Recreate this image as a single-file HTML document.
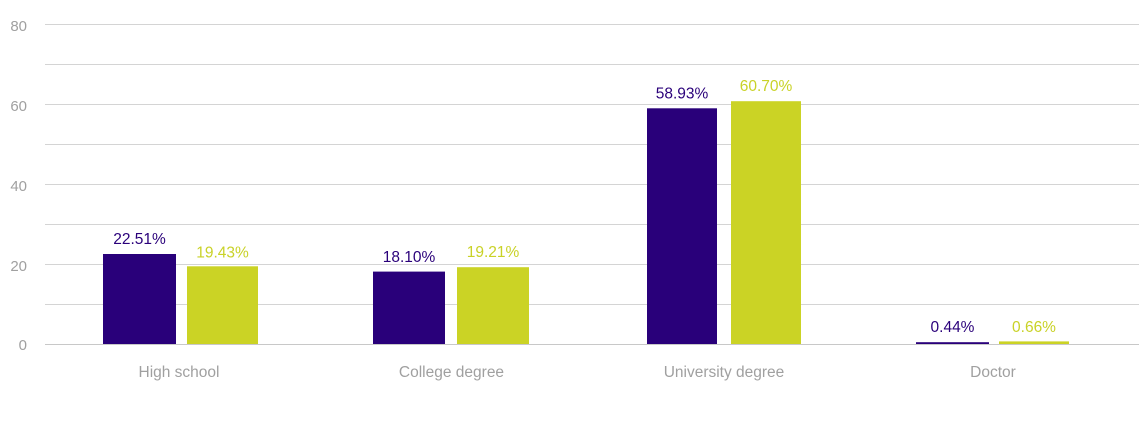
<!DOCTYPE html>
<html>
<head>
<meta charset="utf-8">
<style>
  html,body{margin:0;padding:0;background:#fff;}
  svg{display:block;}
  text{font-family:"Liberation Sans",Arial,sans-serif;}
</style>
</head>
<body>
<svg width="1140" height="424" viewBox="0 0 1140 424" xmlns="http://www.w3.org/2000/svg">
  <g stroke="#d4d4d4" stroke-width="1">
    <line x1="45" y1="24.5" x2="1139" y2="24.5"/>
    <line x1="45" y1="64.5" x2="1139" y2="64.5"/>
    <line x1="45" y1="104.5" x2="1139" y2="104.5"/>
    <line x1="45" y1="144.5" x2="1139" y2="144.5"/>
    <line x1="45" y1="184.5" x2="1139" y2="184.5"/>
    <line x1="45" y1="224.5" x2="1139" y2="224.5"/>
    <line x1="45" y1="264.5" x2="1139" y2="264.5"/>
    <line x1="45" y1="304.5" x2="1139" y2="304.5"/>
  </g>
  <g fill="#a0a0a0" font-size="15" text-anchor="end">
    <text x="27" y="31">80</text>
    <text x="27" y="111">60</text>
    <text x="27" y="191">40</text>
    <text x="27" y="271">20</text>
    <text x="27" y="350">0</text>
  </g>
  <!-- bars -->
  <g fill="#29007a">
    <rect x="103" y="254" width="73" height="90"/>
    <rect x="373" y="271.6" width="72" height="72.4"/>
    <rect x="647" y="108.3" width="70" height="235.7"/>
    <rect x="916" y="342.2" width="73" height="1.8"/>
  </g>
  <g fill="#cbd325">
    <rect x="187" y="266.3" width="71" height="77.7"/>
    <rect x="457" y="267.2" width="72" height="76.8"/>
    <rect x="731" y="101.2" width="70" height="242.8"/>
    <rect x="999" y="341.4" width="70" height="2.6"/>
  </g>
  <line x1="45" y1="344.5" x2="1139" y2="344.5" stroke="#c8c8c8" stroke-width="1"/>
  <!-- value labels -->
  <g font-size="15.5" text-anchor="middle">
    <text x="139.5" y="244" fill="#2a007a">22.51%</text>
    <text x="222.5" y="257.5" fill="#c9d227">19.43%</text>
    <text x="409" y="262" fill="#2a007a">18.10%</text>
    <text x="493" y="257" fill="#c9d227">19.21%</text>
    <text x="682" y="98.5" fill="#2a007a">58.93%</text>
    <text x="766" y="91" fill="#c9d227">60.70%</text>
    <text x="952.5" y="332" fill="#2a007a">0.44%</text>
    <text x="1034" y="332" fill="#c9d227">0.66%</text>
  </g>
  <!-- category labels -->
  <g font-size="15.5" fill="#a0a0a0" text-anchor="middle">
    <text x="179" y="377">High school</text>
    <text x="451.5" y="377">College degree</text>
    <text x="724" y="377">University degree</text>
    <text x="993" y="377">Doctor</text>
  </g>
</svg>
</body>
</html>
